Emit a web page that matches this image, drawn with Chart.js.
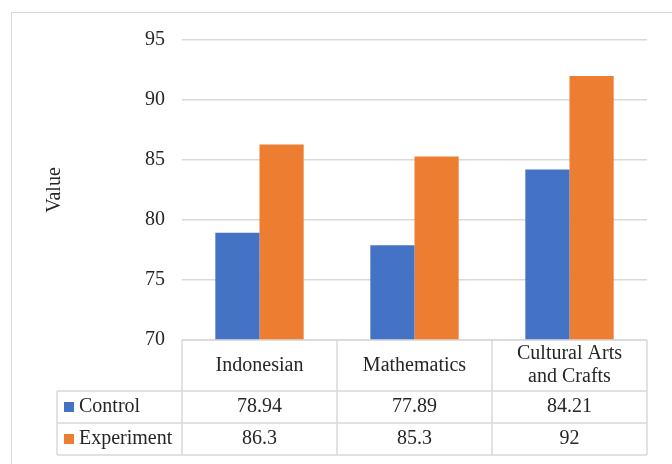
<!DOCTYPE html>
<html>
<head>
<meta charset="utf-8">
<script src="https://cdn.jsdelivr.net/npm/chart.js@4/dist/chart.umd.min.js"></script>
<style>
  html, body { margin: 0; padding: 0; background: #fff; }
  #wrap { position: relative; width: 672px; height: 464px; overflow: hidden; }
  #frame { position: absolute; left: 11px; top: 12px; width: 700px; height: 500px; border: 1.5px solid #d9d9d9; box-sizing: border-box; }
  canvas { position: absolute; left: 0; top: 0; }
</style>
</head>
<body>
<div id="wrap">
  <div id="frame"></div>
  <canvas id="chart" width="672" height="464"></canvas>
</div>
<script>
// data
const categories = ['Indonesian', 'Mathematics', ['Cultural Arts', 'and Crafts']];
const seriesNames = ['Control', 'Experiment'];
const controlValues = [78.94, 77.89, 84.21];
const experimentValues = [86.3, 85.3, 92];
const yTicks = [70, 75, 80, 85, 90, 95];

const FONT = '"Liberation Serif", "Times New Roman", serif';
const TEXT = '#262626';
const LINE = '#d9d9d9';

// data table under the plot, laid out from the x scale
const dataTable = {
  id: 'dataTable',
  afterDraw(chart) {
    const ctx = chart.ctx;
    const x = chart.scales.x;
    const area = chart.chartArea;
    const n = categories.length;
    const colW = (area.right - area.left) / n;
    const headTop = area.bottom;
    const headH = 51;
    const rowH = 32;
    const labelLeft = 57;
    const rowsTop = headTop + headH;
    const bottom = rowsTop + rowH * chart.data.datasets.length;

    ctx.save();
    ctx.strokeStyle = LINE;
    ctx.lineWidth = 1.5;
    ctx.beginPath();
    // horizontal lines
    ctx.moveTo(area.left, headTop); ctx.lineTo(area.right, headTop);
    for (let r = 0; r <= chart.data.datasets.length; r++) {
      const yy = rowsTop + r * rowH;
      ctx.moveTo(labelLeft, yy); ctx.lineTo(area.right, yy);
    }
    // vertical lines
    ctx.moveTo(labelLeft, rowsTop); ctx.lineTo(labelLeft, bottom);
    for (let c = 0; c <= n; c++) {
      const xx = area.left + c * colW;
      ctx.moveTo(xx, headTop); ctx.lineTo(xx, bottom);
    }
    ctx.stroke();

    ctx.fillStyle = TEXT;
    ctx.font = '20px ' + FONT;
    ctx.textAlign = 'center';
    ctx.textBaseline = 'middle';
    categories.forEach((cat, i) => {
      const cx = x.getPixelForValue(i);
      const lines = Array.isArray(cat) ? cat : [cat];
      const lh = 23;
      const y0 = headTop + headH / 2 - (lines.length - 1) * lh / 2;
      lines.forEach((ln, k) => ctx.fillText(ln, cx, y0 + k * lh));
    });

    chart.data.datasets.forEach((ds, r) => {
      const cy = rowsTop + r * rowH + rowH / 2;
      ctx.fillStyle = ds.backgroundColor;
      ctx.fillRect(64, cy - 5, 10, 10);
      ctx.fillStyle = TEXT;
      ctx.textAlign = 'left';
      ctx.fillText(ds.label, 79, cy);
      ctx.textAlign = 'center';
      ds.data.forEach((v, i) => ctx.fillText(String(v), x.getPixelForValue(i), cy));
    });
    ctx.restore();
  }
};

new Chart(document.getElementById('chart'), {
  type: 'bar',
  data: {
    labels: categories,
    datasets: [
      { label: seriesNames[0], data: controlValues, backgroundColor: '#4472C4' },
      { label: seriesNames[1], data: experimentValues, backgroundColor: '#ED7D31' }
    ]
  },
  options: {
    responsive: false,
    animation: false,
    devicePixelRatio: 1,
    layout: { padding: { left: 10, right: 25, top: 40, bottom: 124 } },
    datasets: { bar: { categoryPercentage: 0.57, barPercentage: 1 } },
    plugins: { legend: { display: false }, tooltip: { enabled: false } },
    scales: {
      x: { display: false },
      y: {
        min: 70,
        max: 95,
        afterFit(scale) { scale.width = 172; },
        afterBuildTicks(scale) { scale.ticks = yTicks.map(v => ({ value: v })); },
        border: { display: false },
        grid: { color: LINE, lineWidth: 1.5, drawTicks: false },
        ticks: { padding: 17, color: TEXT, font: { family: FONT, size: 20 } },
        title: {
          display: true,
          text: 'Value',
          color: TEXT,
          font: { family: FONT, size: 20 },
          padding: { top: 33, bottom: 0 }
        }
      }
    }
  },
  plugins: [dataTable]
});
</script>
</body>
</html>
